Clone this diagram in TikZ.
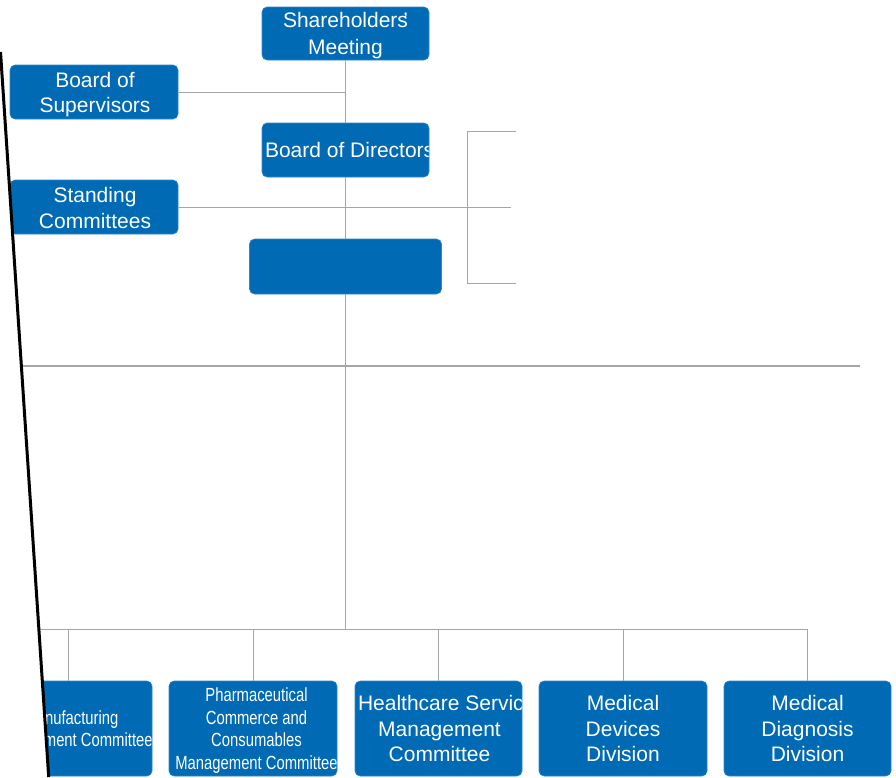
\documentclass[tikz,border=0pt]{standalone}
\usepackage{fontspec}
\setmainfont{Liberation Sans}
\newfontfamily\narrowfont{Liberation Sans}[FakeStretch=0.78]
\usepackage{tikz}
\usetikzlibrary{calc}
\definecolor{boxblue}{RGB}{0,106,180}
\definecolor{boxedge}{RGB}{45,135,205}
\definecolor{linkgray}{RGB}{166,166,166}
\newcommand{\boxfont}{\fontsize{21}{25.3}\selectfont}
\newcommand{\tallfont}{\fontsize{21}{26.5}\selectfont}
\newcommand{\narrowbox}{\narrowfont\fontsize{19}{22.7}\selectfont}

\begin{document}
\begin{tikzpicture}[x=1pt,y=-1pt,
  orgbox/.style={rounded corners=5pt, fill=boxblue, draw=boxedge, line width=0.6pt, text=white,
    font=\boxfont, align=center, inner sep=0pt, minimum width=168pt, minimum height=54pt},
  unitbox/.style={orgbox, minimum height=95pt},
  link/.style={draw=linkgray, line width=1pt},
  cliptext/.style n args={3}{path picture={\node[fill=none, draw=none, text=white, inner sep=0pt,
    minimum width=0pt, minimum height=0pt, rounded corners=0pt, align=center, font=#1, #2]
    at (path picture bounding box.center) {#3};}}]
\useasboundingbox (0,0) rectangle (896,777);
\begin{scope}
\clip (0.5,0)--(0.5,52)--(48.7,777)--(896,777)--(896,0)--cycle;
% governance
\node[orgbox, minimum width=167pt, minimum height=53pt, cliptext={\tallfont}{yshift=-2pt}{Shareholders\llap{'}\\Meeting}] (sh) at (345.5,33.5) {};
\node[orgbox, cliptext={\boxfont}{xshift=1pt, yshift=-2.5pt}{Board of\\Supervisors}] (sup) at (94,92) {};
\node[orgbox, minimum width=167pt, cliptext={\boxfont}{}{\makebox[161pt][l]{Board of Directors}}] (dir) at (345.5,150) {};
\node[orgbox, cliptext={\boxfont}{xshift=1pt, yshift=-1pt}{Standing\\Committees}] (stand) at (94,207) {};
\node[orgbox, minimum width=192pt, minimum height=55pt] (ceo) at (345.5,266.5) {};
% business units
\node[unitbox, cliptext={\narrowbox}{xshift=3.5pt, yshift=-2pt}{Manufacturing\\Management Committee}] (mf) at (68,728.5) {};
\node[unitbox, cliptext={\narrowbox}{xshift=3.5pt, yshift=-2pt}{Pharmaceutical\\Commerce and\\Consumables\\Management Committee}] (pc) at (253,728.5) {};
\node[unitbox, minimum width=167pt, cliptext={\boxfont}{xshift=1pt}{\makebox[163pt][l]{Healthcare Services}\\Management\\Committee}] (hs) at (438.5,728.5) {};
\node[unitbox] (dv) at (623,728.5) {Medical\\Devices\\Division};
\node[unitbox, minimum width=167pt] (dg) at (807.5,728.5) {Medical\\Diagnosis\\Division};
% connectors
\coordinate (bus) at (345.5,629);
\coordinate (stdend) at (511,207);
\coordinate (brkT) at (516,131);
\coordinate (brkB) at (516,283);
\coordinate (hlL) at (20,366);
\coordinate (hlR) at (860,366);
\draw[link] (sh) -- (dir);
\draw[link] (dir) -- (ceo);
\draw[link] (ceo) -- (bus);
\draw[link] (sup.east) -- (sup.east -| sh.south);
\draw[link] (stand.east) -- (stdend);
\draw[link] (brkT) -- ++(-49,0) |- (brkB);
\draw[link, line width=1.8pt] (hlL) -- (hlR);
\draw[link] (bus -| mf.west) -- (bus -| dg.north);
\foreach \n in {mf,pc,hs,dv,dg}
  \draw[link] (bus -| \n.north) -- (\n.north);
\end{scope}
\coordinate (cutT) at (0.5,52);
\coordinate (cutB) at (48.7,777);
\draw[line width=3pt] (cutT) -- (cutB);
\end{tikzpicture}
\end{document}
